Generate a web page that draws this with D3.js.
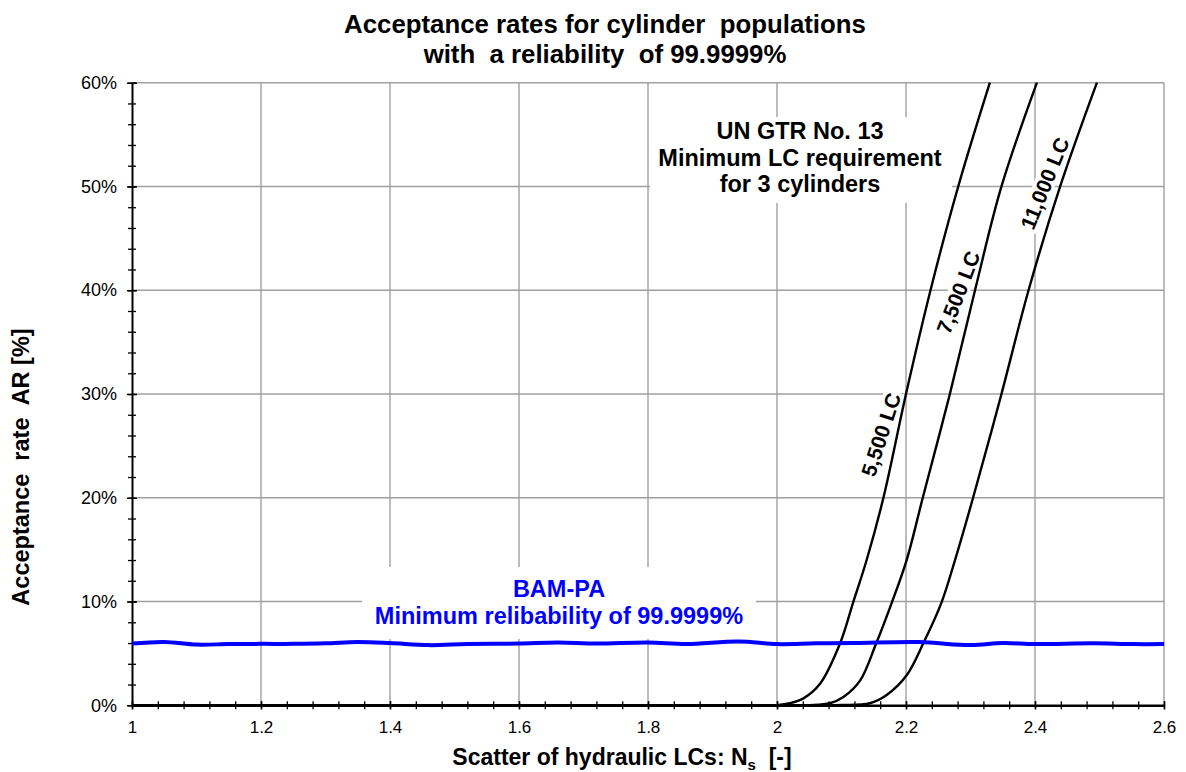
<!DOCTYPE html>
<html>
<head>
<meta charset="utf-8">
<script src="https://cdn.jsdelivr.net/npm/d3@7"></script>
<style>
body { margin: 0; background: #fff; }
text { font-family: "Liberation Sans", Arial, sans-serif; white-space: pre; }
</style>
</head>
<body>
<svg id="chart"></svg>
<script>
const width = 1186;
const height = 772;
const plotLeft = 132, plotRight = 1164, plotTop = 82.7, plotBottom = 705.3;

// axis ticks
const xTicks = [1, 1.2, 1.4, 1.6, 1.8, 2, 2.2, 2.4, 2.6];
const yTicks = [0, 10, 20, 30, 40, 50, 60];

// LC curves: scatter Ns vs acceptance rate AR [%]
const lc5500N  = [1.0, 1.9, 1.97, 2.0, 2.02, 2.041, 2.067, 2.098, 2.118, 2.139, 2.165, 2.2, 2.238, 2.281, 2.330];
const lc5500AR = [0, 0, 0, 0.02, 0.2, 0.67, 2.1, 6.0, 9.9, 14.0, 20, 30, 40, 50, 60];

const lc7500N  = [1.0, 1.95, 2.02, 2.05, 2.082, 2.103, 2.129, 2.154, 2.178, 2.201, 2.226, 2.268, 2.307, 2.348, 2.403];
const lc7500AR = [0, 0, 0, 0.02, 0.2, 0.8, 2.4, 6.0, 9.9, 14.0, 20, 30, 40, 50, 60];

const lc11000N  = [1.0, 2.0, 2.07, 2.10, 2.144, 2.170, 2.201, 2.227, 2.255, 2.276, 2.304, 2.348, 2.390, 2.439, 2.496];
const lc11000AR = [0, 0, 0, 0.03, 0.2, 1.0, 2.9, 6.0, 9.9, 14.0, 20, 30, 40, 50, 60];

// BAM-PA minimum reliability line
const bamN  = [1.00, 1.05, 1.10, 1.15, 1.20, 1.25, 1.30, 1.35, 1.40, 1.46, 1.52, 1.60, 1.66, 1.72, 1.80, 1.86, 1.94, 2.00, 2.06, 2.12, 2.22, 2.30, 2.35, 2.40, 2.49, 2.55, 2.60];
const bamAR = [5.95, 6.1, 5.85, 5.9, 5.92, 5.92, 5.97, 6.1, 6.0, 5.8, 5.9, 5.95, 6.05, 5.95, 6.05, 5.9, 6.15, 5.9, 5.97, 6.0, 6.1, 5.8, 6.0, 5.9, 5.97, 5.9, 5.9];

const curveNames = ['5,500 LC', '7,500 LC', '11,000 LC'];

const svg = d3.select('#chart')
    .attr('width', width)
    .attr('height', height);

const x = d3.scaleLinear().domain([1, 2.6]).range([plotLeft, plotRight]);
const y = d3.scaleLinear().domain([0, 60]).range([plotBottom, plotTop]);

const grid = '#a0a0a0';

// gridlines
svg.append('g').selectAll('line')
    .data(xTicks.slice(1)).enter().append('line')
    .attr('x1', d => x(d)).attr('x2', d => x(d))
    .attr('y1', y(60)).attr('y2', y(0))
    .attr('stroke', grid).attr('stroke-width', 1.4);

svg.append('g').selectAll('line')
    .data(yTicks.slice(1)).enter().append('line')
    .attr('x1', x(1)).attr('x2', x(2.6))
    .attr('y1', d => y(d)).attr('y2', d => y(d))
    .attr('stroke', grid).attr('stroke-width', 1.4);

// white boxes behind the text blocks
svg.append('rect').attr('x', 650).attr('y', 117).attr('width', 302).attr('height', 86).attr('fill', '#fff');
svg.append('rect').attr('x', 362).attr('y', 567).attr('width', 394).attr('height', 72).attr('fill', '#fff');

// axes
const minorX = d3.range(1, 2.6001, 0.04);
const minorY = d3.range(0, 60.001, 2);

const yAxisMinor = svg.append('g')
    .attr('transform', `translate(${plotLeft},0)`)
    .call(d3.axisLeft(y).tickValues(minorY).tickSize(4).tickSizeOuter(0).tickFormat(''));
yAxisMinor.select('.domain').remove();
yAxisMinor.selectAll('.tick line').attr('x1', 4).attr('stroke', '#000').attr('stroke-width', 1.3);

const xAxisMinor = svg.append('g')
    .attr('transform', `translate(0,${plotBottom})`)
    .call(d3.axisBottom(x).tickValues(minorX).tickSize(4).tickSizeOuter(0).tickFormat(''));
xAxisMinor.select('.domain').remove();
xAxisMinor.selectAll('.tick line').attr('y1', -4).attr('stroke', '#000').attr('stroke-width', 1.3);

const yAxis = svg.append('g')
    .attr('transform', `translate(${plotLeft},0)`)
    .call(d3.axisLeft(y).tickValues(yTicks).tickSize(5).tickSizeOuter(0).tickPadding(10).tickFormat(d => d + '%'));
yAxis.select('.domain').attr('stroke', '#000').attr('stroke-width', 2);
yAxis.selectAll('.tick line').attr('x1', 5).attr('stroke', '#000').attr('stroke-width', 1.5);
yAxis.selectAll('.tick text')
    .attr('font-family', '"Liberation Sans", Arial, sans-serif')
    .attr('font-size', 18).attr('fill', '#000');

const xAxis = svg.append('g')
    .attr('transform', `translate(0,${plotBottom})`)
    .call(d3.axisBottom(x).tickValues(xTicks).tickSize(4).tickSizeOuter(0).tickPadding(12).tickFormat(d3.format('')));
xAxis.select('.domain').attr('stroke', '#000').attr('stroke-width', 2.5);
xAxis.selectAll('.tick line').attr('y1', -4).attr('stroke', '#000').attr('stroke-width', 1.5);
xAxis.selectAll('.tick text')
    .attr('font-family', '"Liberation Sans", Arial, sans-serif')
    .attr('font-size', 17).attr('fill', '#000');

// curve labels with white backgrounds
const labelPos = [
    {n: 2.161, ar: 26.1, angle: -72},
    {n: 2.281, ar: 39.8, angle: -69},
    {n: 2.415, ar: 50.3, angle: -68}
];
curveNames.forEach((name, i) => {
    const p = labelPos[i];
    const g = svg.append('g')
        .attr('transform', `translate(${x(p.n)},${y(p.ar)}) rotate(${p.angle})`);
    const t = g.append('text')
        .attr('text-anchor', 'middle')
        .attr('dy', '0.36em')
        .attr('font-size', 21)
        .attr('font-weight', 'bold')
        .text(name);
    const b = t.node().getBBox();
    g.insert('rect', 'text')
        .attr('x', b.x - 2).attr('y', b.y + 1)
        .attr('width', b.width + 4).attr('height', b.height - 2)
        .attr('fill', '#fff');
});

// curves
const lcLine = d3.line()
    .x(d => x(d[0]))
    .y(d => y(d[1]))
    .curve(d3.curveCatmullRom.alpha(0.5));

const lcSeries = [
    d3.zip(lc5500N, lc5500AR),
    d3.zip(lc7500N, lc7500AR),
    d3.zip(lc11000N, lc11000AR)
];

svg.append('g').selectAll('path')
    .data(lcSeries).enter().append('path')
    .attr('d', lcLine)
    .attr('fill', 'none')
    .attr('stroke', '#000')
    .attr('stroke-width', 2.4);

svg.append('path')
    .datum(d3.zip(bamN, bamAR))
    .attr('d', lcLine)
    .attr('fill', 'none')
    .attr('stroke', '#0000ff')
    .attr('stroke-width', 4);

// text blocks
const unText = ['UN GTR No. 13', 'Minimum LC requirement', 'for 3 cylinders'];
svg.append('g').selectAll('text')
    .data(unText).enter().append('text')
    .attr('x', 800)
    .attr('y', (d, i) => 139 + i * 26.5)
    .attr('text-anchor', 'middle')
    .attr('font-size', 23.5)
    .attr('font-weight', 'bold')
    .text(d => d);

const bamText = ['BAM-PA', 'Minimum relibability of 99.9999%'];
svg.append('g').selectAll('text')
    .data(bamText).enter().append('text')
    .attr('x', 559)
    .attr('y', (d, i) => 597 + i * 27)
    .attr('text-anchor', 'middle')
    .attr('font-size', 23.5)
    .attr('font-weight', 'bold')
    .attr('fill', '#0000ff')
    .text(d => d);

// title
const titleLines = ['Acceptance rates for cylinder  populations', 'with  a reliability  of 99.9999%'];
svg.append('g').selectAll('text')
    .data(titleLines).enter().append('text')
    .attr('x', 605)
    .attr('y', (d, i) => 33 + i * 30)
    .attr('text-anchor', 'middle')
    .attr('font-size', 25.8)
    .attr('font-weight', 'bold')
    .text(d => d);

// axis titles
svg.append('text')
    .attr('transform', 'translate(29,467) rotate(-90)')
    .attr('text-anchor', 'middle')
    .attr('font-size', 23.5)
    .attr('font-weight', 'bold')
    .text('Acceptance  rate  AR [%]');

const xt = svg.append('text')
    .attr('x', 622)
    .attr('y', 765)
    .attr('text-anchor', 'middle')
    .attr('font-size', 23)
    .attr('font-weight', 'bold');
xt.append('tspan').text('Scatter of hydraulic LCs: N');
xt.append('tspan').attr('font-size', 15).attr('dy', 5).text('s');
xt.append('tspan').attr('dy', -5).text('  [-]');
</script>
</body>
</html>
